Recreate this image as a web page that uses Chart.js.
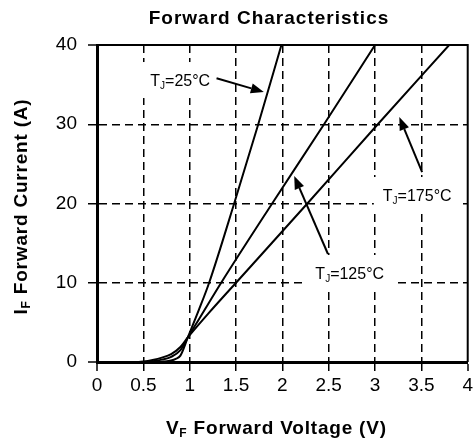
<!DOCTYPE html>
<html><head><meta charset="utf-8">
<script src="https://cdn.jsdelivr.net/npm/chart.js@4/dist/chart.umd.min.js"></script>
<style>html,body{margin:0;padding:0;background:#fff}canvas{display:block}</style>
</head><body>
<canvas id="c" width="476" height="445"></canvas>
<script>
// ---- data ----
const xTickValues = [0, 0.5, 1, 1.5, 2, 2.5, 3, 3.5, 4];
const yTickValues = [0, 10, 20, 30, 40];

const v25  = [0, 0.6, 0.7, 0.8, 0.85, 0.9, 0.98, 1.1, 1.21, 1.48, 1.74, 1.99];
const i25  = [0, 0, 0.03, 0.2, 0.4, 0.8, 3.1, 6.6, 10, 20, 30, 40];

const v125 = [0, 0.5, 0.6, 0.7, 0.8, 0.9, 0.98, 1.1, 1.34, 1.89, 2.45, 3.0];
const i125 = [0, 0, 0.08, 0.3, 0.65, 1.5, 3.1, 5.4, 10, 20, 30, 40];

const v175 = [0, 0.45, 0.5, 0.6, 0.7, 0.8, 0.9, 0.98, 1.2, 1.5, 2.27, 3.03, 3.8];
const i175 = [0, 0, 0.05, 0.25, 0.55, 1.0, 1.9, 3.1, 6.1, 10, 20, 30, 40];

const seriesNames = ['25', '125', '175'];

// annotation labels: text parts and positions in data units
const noteText   = [['T', 'J', '=25°C'], ['T', 'J', '=125°C'], ['T', 'J', '=175°C']];
const noteAt     = [[0.898, 35.58], [2.727, 11.23], [3.455, 21.07]];
const arrowFrom  = [[1.29, 35.8], [2.492, 13.63], [3.508, 23.97]];
const arrowTo    = [[1.80, 34.07], [2.128, 23.47], [3.262, 30.9]];

const chartTitle = 'Forward Characteristics';
const xTitle = ['V', 'F', ' Forward Voltage (V)'];
const yTitle = ['I', 'F', ' Forward Current (A)'];

const FONT = '"Liberation Sans", Arial, sans-serif';

function pts(xs, ys) { return xs.map((x, i) => ({x: x, y: ys[i]})); }

function drawParts(ctx, parts, cx, cy, size, bold, spacing) {
  const w = bold ? 'bold ' : '';
  const subSize = Math.round(size * 0.62);
  ctx.letterSpacing = (spacing || 0) + 'px';
  ctx.font = w + size + 'px ' + FONT;
  const w0 = ctx.measureText(parts[0]).width;
  const w2 = ctx.measureText(parts[2]).width;
  ctx.font = w + subSize + 'px ' + FONT;
  const w1 = ctx.measureText(parts[1]).width;
  const total = w0 + w1 + w2;
  let x = cx - total / 2;
  ctx.textBaseline = 'alphabetic';
  ctx.textAlign = 'left';
  const base = cy + size * 0.36;
  ctx.font = w + size + 'px ' + FONT;
  ctx.fillText(parts[0], x, base); x += w0;
  ctx.font = w + subSize + 'px ' + FONT;
  ctx.fillText(parts[1], x, base + size * 0.18); x += w1;
  ctx.font = w + size + 'px ' + FONT;
  ctx.fillText(parts[2], x, base);
  ctx.letterSpacing = '0px';
  return total;
}

const decor = {
  id: 'decor',
  beforeDatasetsDraw(chart) {
    const {ctx, chartArea: a, scales: {x, y}} = chart;
    ctx.save();
    // frame top & right
    ctx.strokeStyle = '#000';
    ctx.lineWidth = 2;
    ctx.beginPath();
    ctx.moveTo(a.left, a.top); ctx.lineTo(a.right, a.top); ctx.lineTo(a.right, a.bottom);
    ctx.stroke();
    // label boxes + text
    ctx.fillStyle = '#000';
    noteText.forEach((p, i) => {
      const cx = x.getPixelForValue(noteAt[i][0]);
      const cy = y.getPixelForValue(noteAt[i][1]);
      ctx.font = '16px ' + FONT;
      const tw = ctx.measureText(p[0] + p[2]).width + 7;
      ctx.fillStyle = '#fff';
      ctx.fillRect(cx - tw / 2 - 8, cy - 18, tw + 16, 36);
      ctx.fillStyle = '#000';
      drawParts(ctx, p, cx, cy, 16, false, 0);
    });
    ctx.restore();
  },
  afterDatasetsDraw(chart) {
    const {ctx, scales: {x, y}} = chart;
    ctx.save();
    ctx.strokeStyle = '#000';
    ctx.fillStyle = '#000';
    ctx.lineWidth = 2;
    arrowFrom.forEach((f, i) => {
      const x1 = x.getPixelForValue(f[0]), y1 = y.getPixelForValue(f[1]);
      const x2 = x.getPixelForValue(arrowTo[i][0]), y2 = y.getPixelForValue(arrowTo[i][1]);
      const ang = Math.atan2(y2 - y1, x2 - x1);
      const hl = 13, hw = 5;
      const bx = x2 - hl * Math.cos(ang), by = y2 - hl * Math.sin(ang);
      ctx.beginPath(); ctx.moveTo(x1, y1); ctx.lineTo(bx, by); ctx.stroke();
      ctx.beginPath();
      ctx.moveTo(x2, y2);
      ctx.lineTo(bx + hw * Math.sin(ang), by - hw * Math.cos(ang));
      ctx.lineTo(bx - hw * Math.sin(ang), by + hw * Math.cos(ang));
      ctx.closePath(); ctx.fill();
    });
    ctx.restore();
  },
  afterDraw(chart) {
    const {ctx, chartArea: a} = chart;
    ctx.save();
    ctx.fillStyle = '#000';
    ctx.letterSpacing = '1px';
    ctx.font = 'bold 19px ' + FONT;
    ctx.textAlign = 'center';
    ctx.textBaseline = 'middle';
    ctx.fillText(chartTitle, 269, 19);
    ctx.letterSpacing = '0px';
    drawParts(ctx, xTitle, (a.left + a.right) / 2 - 6, 427, 19, true, 0.8);
    ctx.translate(20, (a.top + a.bottom) / 2 + 3);
    ctx.rotate(-Math.PI / 2);
    drawParts(ctx, yTitle, 0, 0, 19, true, 0.8);
    ctx.restore();
  }
};

const gridW = (max) => (c) => (c.tick && c.tick.value > 0 && c.tick.value < max) ? 1.5 : 0;
const fmt = (v) => String(v);

new Chart(document.getElementById('c'), {
  type: 'line',
  data: {
    datasets: [
      {label: seriesNames[0], data: pts(v25, i25)},
      {label: seriesNames[1], data: pts(v125, i125)},
      {label: seriesNames[2], data: pts(v175, i175)}
    ].map(d => Object.assign(d, {
      borderColor: '#000', borderWidth: 2, pointRadius: 0, fill: false,
      cubicInterpolationMode: 'monotone'
    }))
  },
  options: {
    responsive: false,
    animation: false,
    devicePixelRatio: 1,
    layout: {padding: {left: 40, top: 45, right: 5, bottom: 45}},
    plugins: {legend: {display: false}, title: {display: false}, tooltip: {enabled: false}},
    scales: {
      x: {
        type: 'linear', min: 0, max: 4,
        afterBuildTicks: (s) => { s.ticks = xTickValues.map(v => ({value: v})); },
        afterFit: (s) => { s.height = 38; },
        ticks: {color: '#000', font: {family: FONT, size: 19}, padding: 3, maxRotation: 0, callback: fmt},
        grid: {color: '#000', lineWidth: gridW(4), tickWidth: 1.5, tickColor: '#000', tickLength: 9},
        border: {display: true, color: '#000', width: 3, dash: [8, 5]}
      },
      y: {
        type: 'linear', min: 0, max: 40,
        afterBuildTicks: (s) => { s.ticks = yTickValues.map(v => ({value: v})); },
        afterFit: (s) => { s.width = 57; },
        ticks: {color: '#000', font: {family: FONT, size: 19}, padding: 11, callback: fmt},
        grid: {color: '#000', lineWidth: gridW(40), tickWidth: 1.5, tickColor: '#000', tickLength: 9},
        border: {display: true, color: '#000', width: 3, dash: [8, 5]}
      }
    }
  },
  plugins: [decor]
});
</script>
</body></html>
